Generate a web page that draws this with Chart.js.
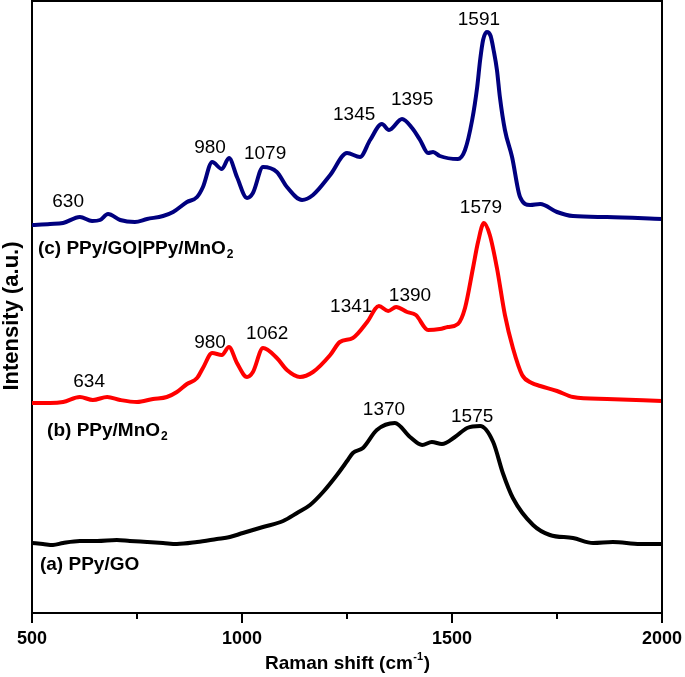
<!DOCTYPE html>
<html><head><meta charset="utf-8">
<script src="https://cdn.jsdelivr.net/npm/chart.js@4.4.0/dist/chart.umd.min.js"></script>
<style>html,body{margin:0;padding:0;background:#fff}</style>
</head><body>
<canvas id="c" width="685" height="677"></canvas>
<script>
// ---- data (Raman shift in cm-1, intensity in arbitrary units, offset stacked) ----
const shiftC = [500,543,574,614,643,662,681,710,745,774,812,836,869,893,907,929,952,969,988,1012,1026,1050,1083,1107,1143,1169,1210,1250,1281,1305,1333,1350,1381,1405,1424,1443,1455,1471,1514,1531,1548,1560,1567,1574,1583,1592,1599,1607,1614,1626,1643,1662,1686,1710,1750,1788,1869,2000];
const intensityC = [388,389,390,396,392,393,399,393,391,394,397,401,411,416,426,451,444,455,436,415,420,446,441,426,413,418,438,460,456,473,489,483,494,485,473,460,461,457,454,463,493,526,553,573,581,577,563,543,516,483,456,416,408,409,401,397,396,394];

const shiftB = [500,543,574,614,645,679,710,750,788,821,845,869,893,907,929,952,969,988,1012,1026,1050,1083,1107,1138,1169,1210,1233,1264,1298,1326,1348,1367,1393,1414,1443,1471,1490,1514,1531,1550,1562,1576,1590,1607,1626,1645,1667,1690,1710,1750,1788,1869,2000];
const intensityB = [210,210,211,216,213,216,213,211,214,216,221,229,235,245,260,258,266,250,236,241,265,255,243,236,241,258,271,275,291,307,302,306,301,298,283,284,286,289,305,345,371,390,378,345,298,265,238,230,227,222,216,214,212];

const shiftA = [500,526,550,574,614,655,702,733,774,812,845,893,940,971,1002,1050,1098,1131,1162,1193,1226,1252,1264,1288,1321,1364,1400,1429,1452,1476,1507,1536,1567,1598,1621,1645,1693,1733,1788,1836,1883,1948,2000];
const intensityA = [70,69,68,70,72,72,73,72,71,70,69,71,74,76,80,86,92,100,108,121,138,153,160,165,183,190,176,168,171,169,176,185,187,171,140,115,88,78,75,70,71,69,69];

const xTicks = [500,1000,1500,2000];
const seriesNames = ['(a) PPy/GO','(b) PPy/MnO','(c) PPy/GO|PPy/MnO'];
const seriesSub = ['','2','2'];
const seriesColors = ['#000000','#ff0000','#00007f'];

// peak annotations (text, at wavenumber / intensity)
const peakText = ['630','980','1079','1345','1395','1591','634','980','1062','1341','1390','1579','1370','1575'];
const peakAtX  = [586,924,1055,1267,1405,1564,636,924,1060,1260,1400,1569,1338,1548];
const peakAtY  = [413,467,461,500,515,595,233,272,281,308,319,407,205,198];
const nameAtX = [519,536,514];
const nameAtY = [50,184,366];

const FAM = '"Liberation Sans", Arial, sans-serif';

function pts(xs, ys){ return xs.map((v,i)=>({x:v, y:ys[i]})); }

const deco = {
  id:'deco',
  afterDraw(chart){
    const {ctx, chartArea:a, scales:{x,y}} = chart;
    ctx.save();
    ctx.strokeStyle = '#000'; ctx.lineWidth = 2;
    ctx.beginPath();
    ctx.moveTo(a.left-1, a.top); ctx.lineTo(a.right, a.top); ctx.lineTo(a.right, a.bottom);
    for (let v=500; v<=2000; v+=250){
      const px = Math.round(x.getPixelForValue(v));
      const len = (v % 500 === 0) ? 10 : 6;
      ctx.moveTo(px, a.bottom); ctx.lineTo(px, a.bottom+len);
    }
    ctx.stroke();
    ctx.fillStyle = '#000';
    // peak labels
    const ps = 19;
    ctx.font = `${ps}px ${FAM}`;
    ctx.textAlign = 'center'; ctx.textBaseline = 'alphabetic';
    peakText.forEach((t,i)=>{
      ctx.fillText(t, x.getPixelForValue(peakAtX[i]), y.getPixelForValue(peakAtY[i]) + 0.36*ps);
    });
    // series names
    const ns = 19;
    ctx.textAlign = 'left';
    seriesNames.forEach((t,i)=>{
      const px = x.getPixelForValue(nameAtX[i]);
      const py = y.getPixelForValue(nameAtY[i]) + 0.36*ns;
      ctx.font = `bold ${ns}px ${FAM}`;
      ctx.fillText(t, px, py);
      if (seriesSub[i]){
        const w = ctx.measureText(t).width;
        ctx.font = `bold 12px ${FAM}`;
        ctx.fillText(seriesSub[i], px + w + 1, py + 4);
      }
    });
    // x title with superscript
    const ts = 19;
    ctx.font = `bold ${ts}px ${FAM}`;
    const t1 = 'Raman shift (cm', t3 = ')';
    const w1 = ctx.measureText(t1).width, w3 = ctx.measureText(t3).width;
    ctx.font = `bold 11px ${FAM}`;
    const w2 = ctx.measureText('-1').width;
    const cx = (a.left + a.right)/2;
    let sx = cx - (w1+w2+w3)/2;
    const base = 669;
    ctx.font = `bold ${ts}px ${FAM}`;
    ctx.fillText(t1, sx, base);
    ctx.font = `bold 11px ${FAM}`;
    ctx.fillText('-1', sx + w1 + 0.5, base - 9);
    ctx.font = `bold ${ts}px ${FAM}`;
    ctx.fillText(t3, sx + w1 + w2 + 1, base);
    // y title
    ctx.translate(18, 316);
    ctx.rotate(-Math.PI/2);
    ctx.textAlign = 'center';
    ctx.font = `bold 22px ${FAM}`;
    ctx.fillText('Intensity (a.u.)', 0, 0);
    ctx.restore();
  }
};

new Chart(document.getElementById('c'), {
  type:'line',
  data:{
    datasets:[
      {label:'(a) PPy/GO', data:pts(shiftA,intensityA), borderColor:seriesColors[0]},
      {label:'(b) PPy/MnO2', data:pts(shiftB,intensityB), borderColor:seriesColors[1]},
      {label:'(c) PPy/GO|PPy/MnO2', data:pts(shiftC,intensityC), borderColor:seriesColors[2]}
    ].map(d=>Object.assign(d,{borderWidth:4, pointRadius:0, fill:false, cubicInterpolationMode:'monotone', borderCapStyle:'round', borderJoinStyle:'round'}))
  },
  options:{
    responsive:false, animation:false, devicePixelRatio:1,
    layout:{padding:{left:0,right:23,top:1,bottom:0}},
    plugins:{legend:{display:false}, tooltip:{enabled:false}},
    scales:{
      x:{type:'linear', min:500, max:2000,
         afterBuildTicks:(s)=>{ s.ticks = xTicks.map(v=>({value:v})); },
         afterFit:(s)=>{ s.height = 64; s.paddingLeft = 0; s.paddingRight = 0; },
         grid:{display:false, drawTicks:false},
         border:{display:true, color:'#000', width:2},
         ticks:{color:'#000', padding:15, maxRotation:0, font:{family:FAM, size:18, weight:'bold'},
                callback:(v)=>String(v)}
      },
      y:{min:0, max:612,
         afterFit:(s)=>{ s.width = 32; s.paddingTop = 0; s.paddingBottom = 0; },
         grid:{display:false, drawTicks:false},
         border:{display:true, color:'#000', width:2},
         ticks:{display:false}
      }
    }
  },
  plugins:[deco]
});
</script>
</body></html>
